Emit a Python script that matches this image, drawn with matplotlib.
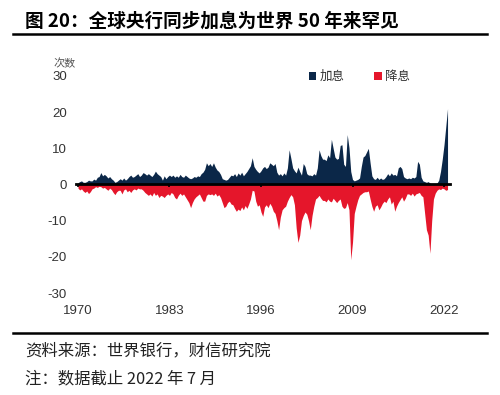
import numpy as np
import matplotlib
matplotlib.use("Agg")
import matplotlib.pyplot as plt
from matplotlib.patches import Patch
from matplotlib.lines import Line2D

plt.rcParams['font.family'] = ['Liberation Sans', 'Noto Sans CJK SC', 'DejaVu Sans']

# Quarterly counts of central-bank rate hikes / cuts, 1970Q1 .. 2022Q3 (July)
start_year = 1970
hikes = [
    0.5, 0.8, 1.0, 0.6,   # 1970
    0.6, 0.8, 1.2, 1.0,   # 1971
    1.0, 1.5, 1.2, 2.0,   # 1972
    2.2, 3.3, 2.4, 2.8,   # 1973
    2.4, 1.8, 2.2, 1.6,   # 1974
    1.2, 0.6, 0.8, 1.2,   # 1975
    1.6, 1.2, 1.8, 1.2,   # 1976
    1.6, 2.2, 2.6, 2.0,   # 1977
    2.2, 2.6, 3.0, 2.2,   # 1978
    2.6, 3.3, 3.0, 2.6,   # 1979
    3.0, 2.6, 2.2, 2.8,   # 1980
    3.7, 3.0, 2.6, 2.2,   # 1981
    1.2, 2.4, 1.6, 2.2,   # 1982
    2.6, 2.2, 2.6, 2.0,   # 1983
    2.4, 2.0, 2.8, 2.2,   # 1984
    2.0, 2.6, 2.2, 1.8,   # 1985
    1.6, 1.8, 2.2, 2.0,   # 1986
    2.4, 2.2, 3.0, 3.4,   # 1987
    4.2, 6.0, 5.2, 5.8,   # 1988
    5.0, 6.0, 4.8, 4.0,   # 1989
    3.6, 2.8, 1.6, 1.4,   # 1990
    1.2, 1.4, 2.0, 2.6,   # 1991
    2.4, 3.0, 2.2, 3.2,   # 1992
    2.6, 3.4, 2.4, 3.0,   # 1993
    3.6, 4.4, 5.2, 7.4,   # 1994
    5.0, 4.2, 3.6, 3.2,   # 1995
    3.8, 4.6, 5.0, 4.4,   # 1996
    4.8, 6.0, 5.6, 5.2,   # 1997
    5.8, 3.4, 2.6, 3.0,   # 1998
    2.4, 3.2, 2.6, 4.6,   # 1999
    9.6, 7.2, 4.6, 3.8,   # 2000
    3.2, 4.8, 3.6, 2.6,   # 2001
    5.8, 5.0, 3.0, 2.6,   # 2002
    2.6, 2.4, 3.0, 2.6,   # 2003
    4.6, 9.6, 8.0, 7.0,   # 2004
    7.0, 6.6, 8.2, 7.4,   # 2005
    12.5, 10.0, 7.6, 7.0, # 2006
    7.2, 10.8, 11.0, 5.6, # 2007
    5.0, 13.8, 10.2, 3.6, # 2008
    1.4, 1.0, 1.2, 1.4,   # 2009
    1.8, 5.0, 7.6, 8.0,   # 2010
    9.0, 10.0, 6.0, 2.4,  # 2011
    1.6, 1.4, 2.0, 1.4,   # 2012
    1.8, 1.4, 1.6, 2.2,   # 2013
    3.0, 2.4, 3.2, 2.6,   # 2014
    2.8, 2.4, 4.6, 5.0,   # 2015
    4.4, 2.2, 1.8, 1.6,   # 2016
    1.8, 1.6, 2.0, 1.8,   # 2017
    2.2, 6.4, 5.6, 2.0,   # 2018
    1.0, 0.8, 0.6, 0.8,   # 2019
    0.4, 0.2, 0.2, 0.2,   # 2020
    0.4, 1.2, 3.6, 7.0,   # 2021
    11.0, 16.0, 21.0,     # 2022
]
cuts = [
    -1.0, -1.5, -1.2, -1.8,   # 1970
    -2.2, -1.8, -2.5, -2.0,   # 1971
    -1.2, -1.0, -0.6, -0.8,   # 1972
    -0.5, -0.6, -1.0, -0.8,   # 1973
    -1.2, -1.6, -1.0, -1.4,   # 1974
    -2.2, -2.8, -2.0, -1.6,   # 1975
    -1.6, -2.6, -1.5, -1.2,   # 1976
    -2.0, -1.6, -2.2, -1.5,   # 1977
    -1.2, -1.5, -1.0, -1.2,   # 1978
    -1.2, -1.6, -2.2, -2.6,   # 1979
    -3.0, -2.6, -3.2, -2.2,   # 1980
    -3.0, -2.6, -3.6, -3.0,   # 1981
    -3.2, -3.6, -3.0, -2.6,   # 1982
    -3.0, -2.2, -2.6, -3.6,   # 1983
    -4.0, -3.0, -2.4, -3.0,   # 1984
    -2.6, -3.4, -4.2, -5.0,   # 1985
    -6.4, -5.0, -4.0, -3.4,   # 1986
    -3.0, -2.6, -3.6, -4.6,   # 1987
    -4.6, -3.0, -2.6, -2.8,   # 1988
    -2.6, -3.0, -2.4, -3.2,   # 1989
    -2.8, -3.6, -5.0, -6.4,   # 1990
    -6.0, -5.0, -4.6, -5.4,   # 1991
    -5.6, -6.6, -7.4, -6.8,   # 1992
    -7.2, -6.2, -7.0, -5.8,   # 1993
    -6.6, -5.4, -4.0, -1.6,   # 1994
    -1.8, -4.6, -6.0, -5.6,   # 1995
    -7.6, -8.8, -6.2, -5.6,   # 1996
    -6.4, -5.2, -6.0, -7.4,   # 1997
    -8.0, -10.0, -12.5, -9.0, # 1998
    -7.0, -6.4, -6.0, -4.6,   # 1999
    -3.6, -2.8, -3.4, -5.6,   # 2000
    -12.0, -16.0, -14.0, -10.0, # 2001
    -8.6, -7.6, -8.2, -10.0,  # 2002
    -12.5, -8.6, -6.0, -4.0,  # 2003
    -3.6, -3.0, -3.8, -4.4,   # 2004
    -4.4, -4.8, -4.0, -4.6,   # 2005
    -4.8, -3.8, -4.4, -5.0,   # 2006
    -4.4, -4.0, -6.0, -6.6,   # 2007
    -6.4, -5.0, -7.0, -20.8,  # 2008
    -16.0, -8.0, -6.0, -4.2,  # 2009
    -3.0, -2.6, -2.2, -2.0,   # 2010
    -2.0, -1.8, -4.0, -6.0,   # 2011
    -7.4, -6.0, -5.6, -7.0,   # 2012
    -6.2, -5.2, -4.6, -5.0,   # 2013
    -4.0, -3.4, -5.4, -4.6,   # 2014
    -7.4, -6.0, -5.0, -4.2,   # 2015
    -3.4, -4.6, -3.8, -2.6,   # 2016
    -2.6, -3.0, -2.4, -3.2,   # 2017
    -2.6, -2.4, -2.2, -3.0,   # 2018
    -3.4, -8.0, -12.5, -14.0, # 2019
    -19.0, -10.0, -4.0, -2.4, # 2020
    -1.6, -1.2, -1.4, -1.0,   # 2021
    -1.2, -1.6, -1.4,         # 2022
]
x_ticks = [1970, 1983, 1996, 2009, 2022]
y_ticks = [-30, -20, -10, 0, 10, 20, 30]
series_names = ['加息', '降息']

navy = '#0b2748'
red = '#e5162b'
txt = '#333333'

t = start_year + np.arange(len(hikes)) / 4.0

fig = plt.figure(figsize=(5.0, 3.95), dpi=100)
W, H = 500.0, 395.0

ax = fig.add_axes([76 / W, 1 - 293 / H, 374 / W, 217 / H])
ax.fill_between(t, 0, hikes, color=navy, lw=0, zorder=1)
ax.fill_between(t, 0, cuts, color=red, lw=0, zorder=1)

ax.set_xlim(1969.72, 2022.85)
ax.set_ylim(-30, 30)
ax.set_yticks(y_ticks)
ax.set_yticklabels([str(v) for v in y_ticks])
ax.tick_params(axis='y', length=0, pad=6.5, labelsize=9.5, labelcolor=txt)

for s in ['top', 'right', 'left']:
    ax.spines[s].set_visible(False)
ax.spines['bottom'].set_position(('data', 0))
ax.spines['bottom'].set_linewidth(2)
ax.spines['bottom'].set_color('black')
ax.spines['bottom'].set_zorder(3)
ax.set_xticks(x_ticks)
ax.tick_params(axis='x', length=2.5, width=1.2, direction='out',
               labelbottom=False, color='black')

sec = ax.secondary_xaxis('bottom')
sec.set_xticks(x_ticks)
sec.set_xticklabels([str(v) for v in x_ticks])
sec.tick_params(length=0, pad=9, labelsize=9.5, labelcolor=txt)
sec.spines['bottom'].set_visible(False)

handles = [Patch(facecolor=navy, edgecolor='none'), Patch(facecolor=red, edgecolor='none')]
leg = ax.legend(handles, series_names, loc='upper right', ncol=2, frameon=False,
                bbox_to_anchor=(410 / W, 1 - 70 / H), bbox_transform=fig.transFigure,
                handlelength=0.6, handleheight=0.6, handletextpad=0.25,
                columnspacing=2.4, borderaxespad=0, borderpad=0,
                prop={'family': ['Noto Sans CJK SC'], 'size': 9})
for tx in leg.get_texts():
    tx.set_color(txt)

fig.text(65 / W, 1 - 64 / H, '次数', ha='center', va='center',
         fontsize=8, color='#555555', family=['Noto Sans CJK SC'])

# Title and rules
fig.text(25 / W, 1 - 21 / H, '图 20：全球央行同步加息为世界 50 年来罕见',
         ha='left', va='center', fontsize=13.4, fontweight='bold', color='black',
         family=['Noto Sans CJK SC', 'DejaVu Sans'])
fig.add_artist(Line2D([13 / W, 487 / W], [1 - 34 / H, 1 - 34 / H],
                      transform=fig.transFigure, color='black', lw=1.8))
fig.add_artist(Line2D([13 / W, 487 / W], [1 - 332.5 / H, 1 - 332.5 / H],
                      transform=fig.transFigure, color='black', lw=1.8))

fig.text(25 / W, 1 - 351 / H, '资料来源：世界银行，财信研究院', ha='left', va='center',
         fontsize=11.8, color='#222222', family=['Noto Sans CJK SC', 'DejaVu Sans'])
fig.text(25 / W, 1 - 379 / H, '注：数据截止 2022 年 7 月', ha='left', va='center',
         fontsize=11.8, color='#222222', family=['Noto Sans CJK SC', 'DejaVu Sans'])

fig.savefig('out.png', dpi=100)
